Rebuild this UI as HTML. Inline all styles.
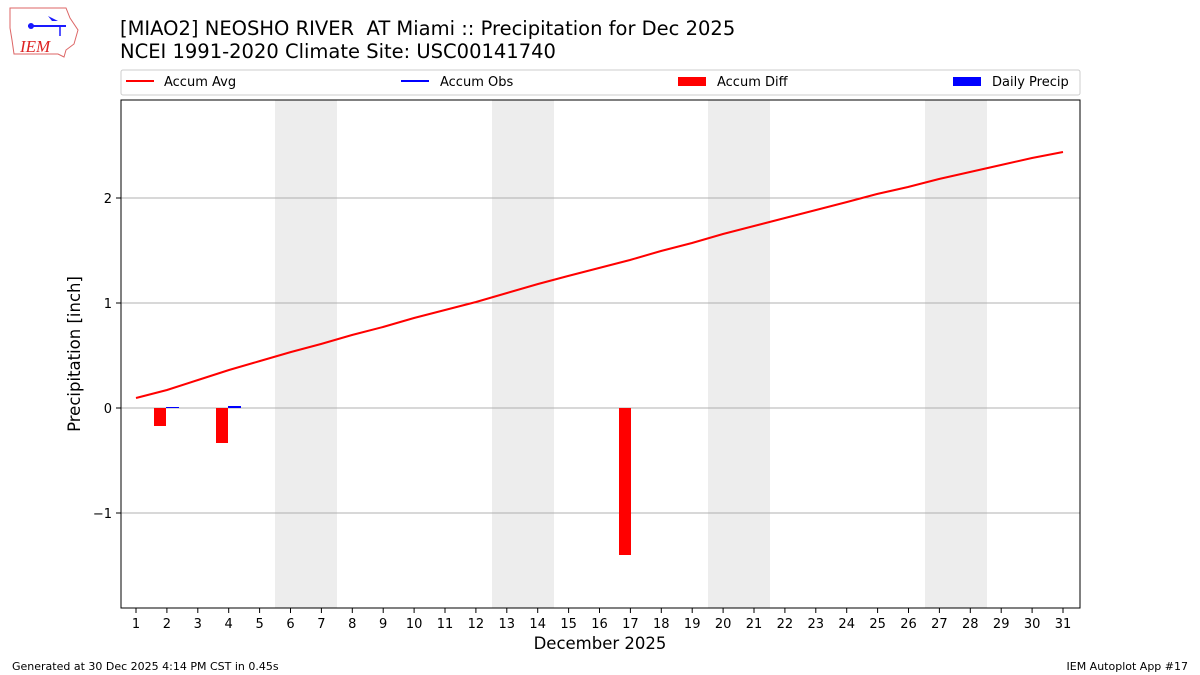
<!DOCTYPE html>
<html><head><meta charset="utf-8"><style>
body{margin:0;background:#fff;}
svg{display:block;font-family:"DejaVu Sans",sans-serif;}
</style></head><body>
<svg width="1200" height="675" viewBox="0 0 1200 675">
<rect width="1200" height="675" fill="#fff"/>
<path d="M10,8 L66,8 L70,18 L78,30 L74,44 L66,50 L64,57 L58,54 L14,54 L12,40 L10,28 Z" fill="none" stroke="#d66" stroke-width="1"/>
<line x1="28" y1="26" x2="66" y2="26" stroke="#1a1aff" stroke-width="2"/>
<circle cx="31" cy="26" r="3" fill="#1a1aff"/>
<path d="M48,16 L58,21 L52,21Z" fill="#1a1aff"/>
<line x1="60" y1="26" x2="60" y2="36" stroke="#1a1aff" stroke-width="1.5"/>
<text x="20" y="52" font-family="Liberation Serif,serif" font-style="italic" font-size="17" fill="#d22">IEM</text>
<text x="120" y="35" font-size="19.5" fill="#000">[MIAO2] NEOSHO RIVER&#160; AT Miami :: Precipitation for Dec 2025</text>
<text x="120" y="58" font-size="19.5" fill="#000">NCEI 1991-2020 Climate Site: USC00141740</text>
<rect x="121" y="70" width="959" height="25" fill="#fff" stroke="#ccc" rx="2"/>
<line x1="126" y1="81" x2="154" y2="81" stroke="red" stroke-width="2"/>
<text x="164" y="86" font-size="13">Accum Avg</text>
<line x1="401" y1="81" x2="429" y2="81" stroke="blue" stroke-width="2"/>
<text x="440" y="86" font-size="13">Accum Obs</text>
<rect x="678" y="77" width="28" height="9" fill="red"/>
<text x="717" y="86" font-size="13">Accum Diff</text>
<rect x="953" y="77" width="28" height="9" fill="blue"/>
<text x="992" y="86" font-size="13">Daily Precip</text>
<g fill="#ededed">
<rect x="275" y="100" width="62" height="508"/>
<rect x="492" y="100" width="62" height="508"/>
<rect x="708" y="100" width="62" height="508"/>
<rect x="925" y="100" width="62" height="508"/>
</g>
<g stroke="#b0b0b0" stroke-width="1">
<line x1="121" y1="198" x2="1080" y2="198"/>
<line x1="121" y1="303" x2="1080" y2="303"/>
<line x1="121" y1="408" x2="1080" y2="408"/>
<line x1="121" y1="513" x2="1080" y2="513"/>
</g>
<rect x="154" y="408" width="12" height="18" fill="red"/>
<rect x="216" y="408" width="12" height="35" fill="red"/>
<rect x="619" y="408" width="12" height="147" fill="red"/>
<rect x="166" y="407" width="13" height="1" fill="blue"/>
<rect x="228" y="406" width="13" height="2" fill="blue"/>
<polyline fill="none" stroke="red" stroke-width="2" points="136,398 167,390 198,380 229,370 260,361 291,352 321,344 352,335 383,327 414,318 445,310 476,302 507,293 538,284 568,276 599,268 630,260 661,251 692,243 723,234 754,226 785,218 816,210 847,202 877,194 908,187 939,179 970,172 1001,165 1032,158 1063,152"/>
<rect x="121" y="100" width="959" height="508" fill="none" stroke="#000" stroke-width="1"/>
<g font-size="13" text-anchor="end">
<line x1="116" y1="198" x2="121" y2="198" stroke="#000"/><text x="112" y="203">2</text>
<line x1="116" y1="303" x2="121" y2="303" stroke="#000"/><text x="112" y="308">1</text>
<line x1="116" y1="408" x2="121" y2="408" stroke="#000"/><text x="112" y="413">0</text>
<line x1="116" y1="513" x2="121" y2="513" stroke="#000"/><text x="112" y="518">−1</text>
</g>
<text transform="translate(80,354) rotate(-90)" font-size="16.5" text-anchor="middle">Precipitation [inch]</text>
<g font-size="13" text-anchor="middle" id="xt"></g>
<text x="600" y="649" font-size="16.5" text-anchor="middle">December 2025</text>
<text x="12" y="670" font-size="11">Generated at 30 Dec 2025 4:14 PM CST in 0.45s</text>
<text x="1188" y="670" font-size="11" text-anchor="end">IEM Autoplot App #17</text>
</svg>
<script>
var g=document.getElementById('xt'),s='';
for(var d=1;d<=31;d++){var x=136+(d-1)*30.9;
s+='<line x1="'+x+'" y1="608" x2="'+x+'" y2="613" stroke="#000"/><text x="'+x+'" y="628">'+d+'</text>';}
g.innerHTML=s;
</script>
</body></html>
